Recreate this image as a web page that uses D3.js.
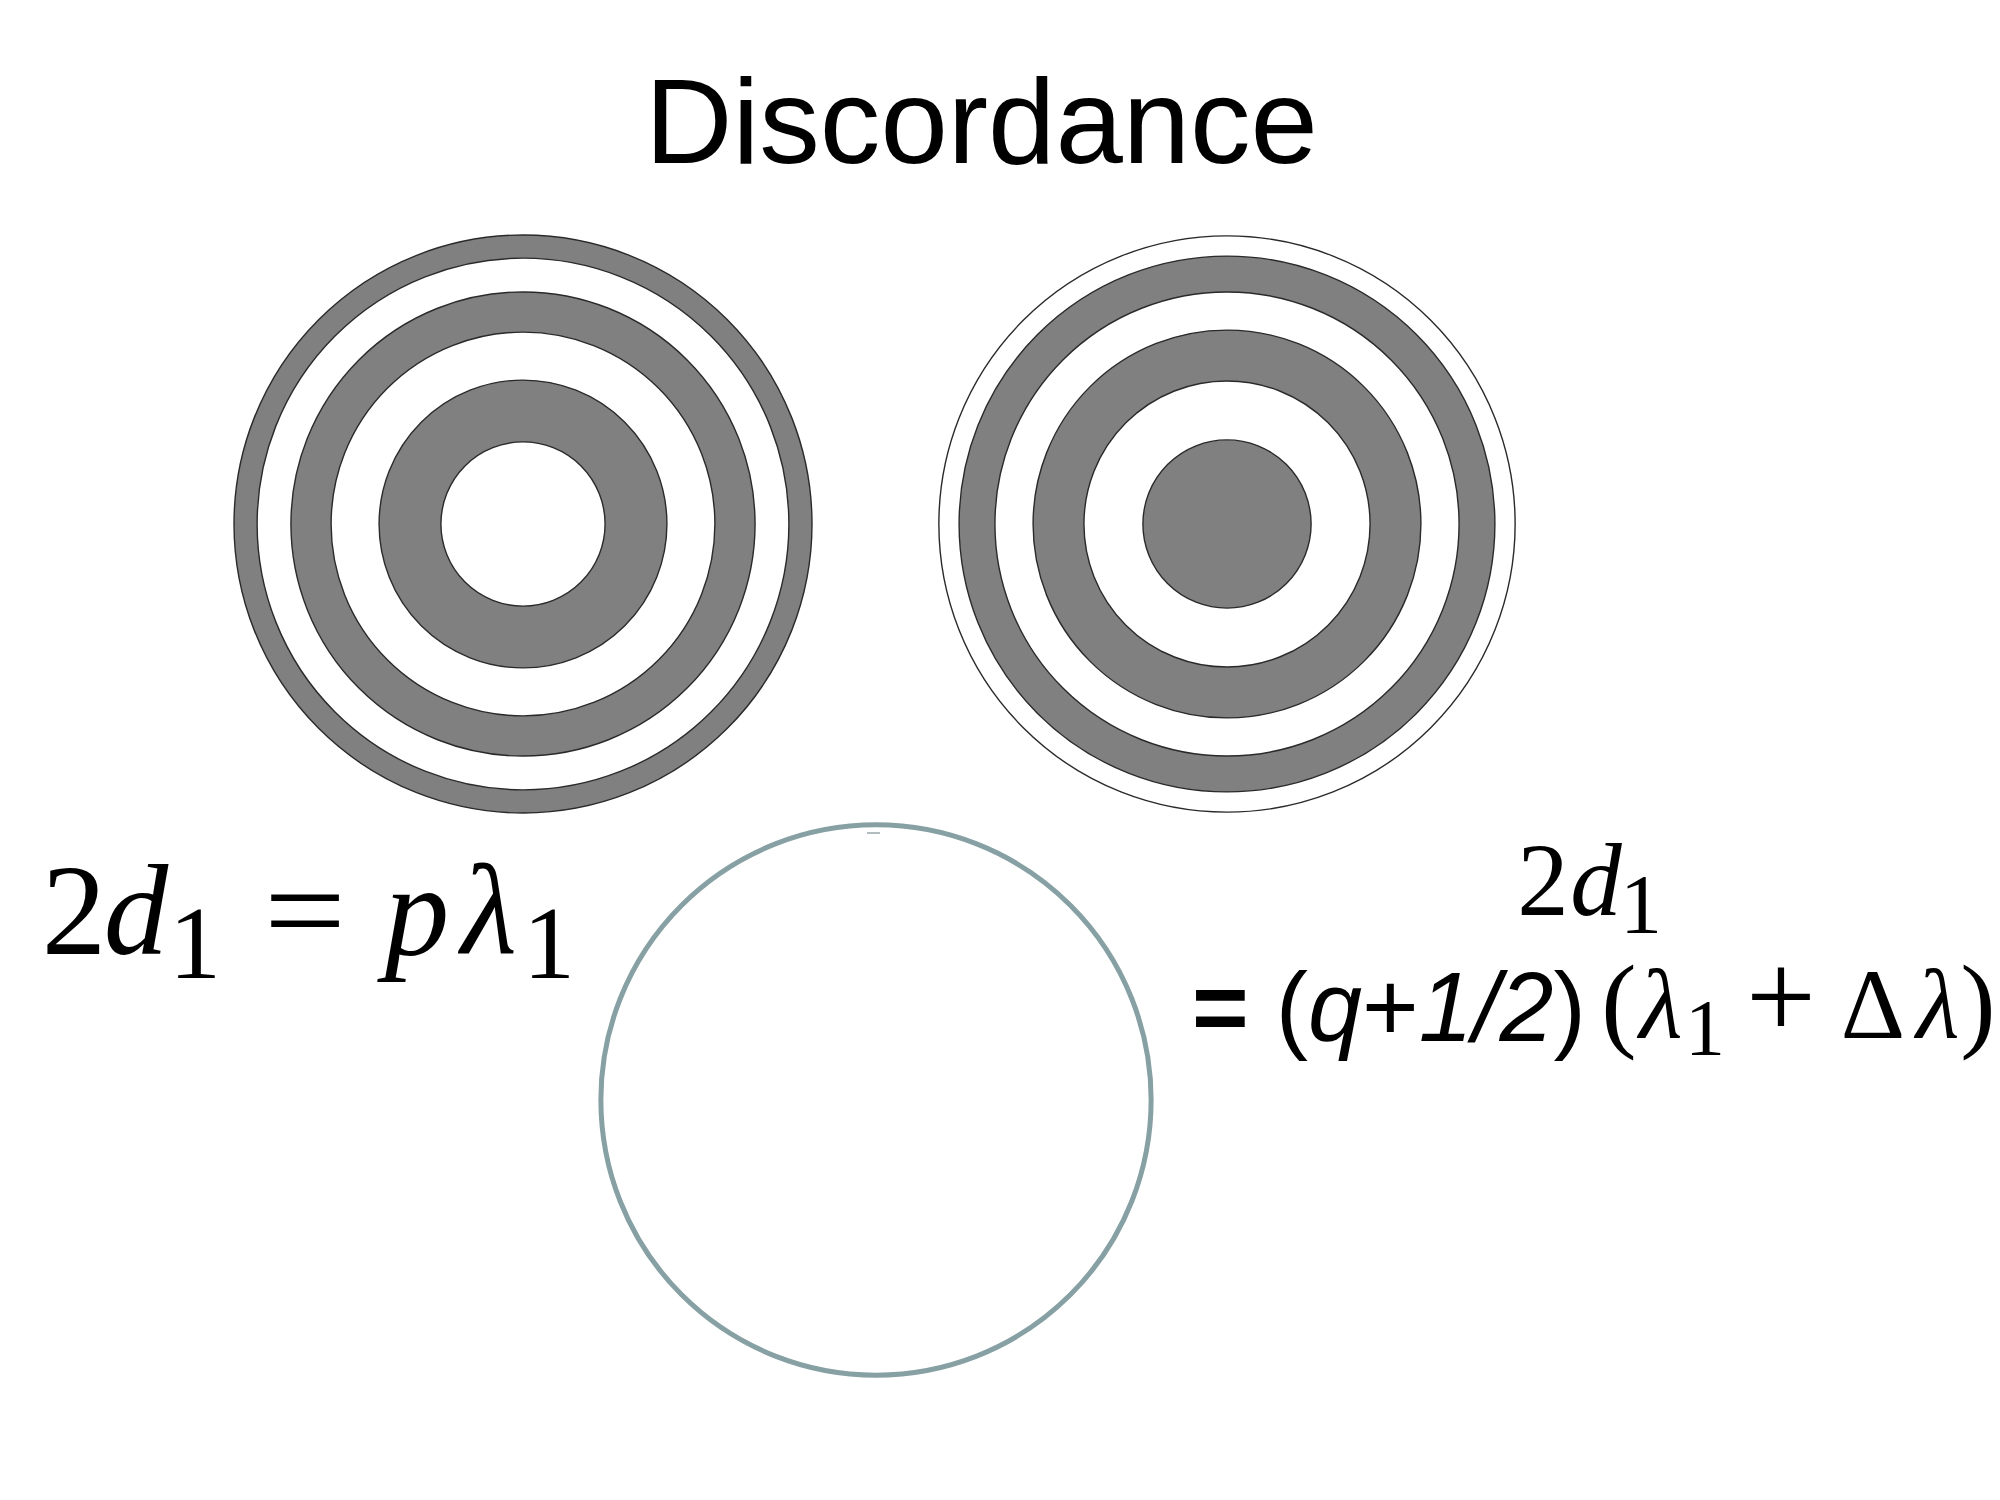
<!DOCTYPE html>
<html><head><meta charset="utf-8">
<script src="https://cdn.jsdelivr.net/npm/d3@7"></script>
<style>body{margin:0;background:#fff}</style></head>
<body>
<svg id="c" width="2000" height="1500"></svg>
<script>
// ---------- data ----------
const title = "Discordance";
const patterns = ["left", "right"];
// band outer radii as fraction of the largest ring, largest first
const leftBands  = [1.000, 0.920, 0.803, 0.664, 0.498, 0.284];
const leftTones  = ["dark", "light", "dark", "light", "dark", "light"];
const rightBands = [0.997, 0.927, 0.803, 0.671, 0.495, 0.291];
const rightTones = ["light", "dark", "light", "dark", "light", "dark"];
const lensRadius = [0.952];
// formula glyphs
const leftEqGlyphs  = ["2", "d", "1", "=", "p", "λ", "1"];
const rightTopGlyphs = ["2", "d", "1"];
const rightSansGlyphs = ["=", " (", "q", "+", "1/2", ")"];
const rightSerifGlyphs = ["(", "λ", "1", "+", "Δ", "λ", ")"];

// ---------- layout / style ----------
const W = 2000, H = 1500;
const svg = d3.select("#c");
svg.append("rect").attr("width", W).attr("height", H).attr("fill", "#fff");

const r = d3.scaleLinear().domain([0, 1]).range([0, 289]);
const tone = d3.scaleOrdinal().domain(["dark", "light"]).range(["#808080", "#ffffff"]);
const centres = d3.scaleOrdinal().domain(patterns).range([[523, 524], [1227, 524]]);

function drawRings(name, bands, tones) {
  const [cx, cy] = centres(name);
  svg.append("g").attr("transform", `translate(${cx},${cy})`)
    .selectAll("circle").data(bands.map((b, i) => ({ b, t: tones[i] })))
    .join("circle")
    .attr("r", d => r(d.b))
    .attr("fill", d => tone(d.t))
    .attr("stroke", "#2a2a2a")
    .attr("stroke-width", 1.4);
}
drawRings("left", leftBands, leftTones);
drawRings("right", rightBands, rightTones);

// lower circle
svg.append("g").attr("transform", "translate(876,1100)")
  .selectAll("circle").data(lensRadius).join("circle")
  .attr("r", d => r(d)).attr("fill", "none")
  .attr("stroke", "#86a0a4").attr("stroke-width", 5);
svg.append("line").attr("x1", 867).attr("x2", 880).attr("y1", 833).attr("y2", 833)
  .attr("stroke", "#9aa6a8").attr("stroke-width", 1.5);

// title
function fit(sel, x0, x1) {
  const b = sel.node().getBBox();
  const s = (x1 - x0) / b.width;
  sel.attr("transform", `translate(${x0},0) scale(${s},1) translate(${-b.x},0)`);
}
const t = svg.append("text").attr("x", 0).attr("y", 163)
  .attr("font-family", "Liberation Sans, Arial, sans-serif").attr("font-size", 120)
  .attr("fill", "#000").text(title);
fit(t, 645, 1318);

// serif formulas (TeX-like)
const serif = "Liberation Serif, Times New Roman, serif";
function serifGlyphs(glyphs, xs, base, subBase, size, subSize, italic, widths, sizes) {
  svg.append("g").selectAll("text").data(glyphs.map((g, i) => ({ g, i })))
    .join("text")
    .attr("x", d => widths[d.i] ? xs[d.i] - widths[d.i] / 2 : xs[d.i])
    .attr("y", d => subBase[d.i] ? subBase[d.i] : base)
    .attr("text-anchor", d => widths[d.i] ? "start" : "middle")
    .attr("font-family", serif)
    .attr("font-size", d => sizes[d.i] ? sizes[d.i] : (subBase[d.i] ? subSize : size))
    .attr("font-style", d => italic[d.i] ? "italic" : "normal")
    .attr("textLength", d => widths[d.i] ? widths[d.i] : null)
    .attr("lengthAdjust", "spacingAndGlyphs")
    .attr("fill", "#000")
    .text(d => d.g);
}
serifGlyphs(leftEqGlyphs, [74, 136, 195, 305, 417, 489, 549], 954,
  [0, 0, 978, 0, 0, 0, 978], 129, 104, [0, 1, 0, 0, 1, 1, 0],
  [0, 0, 0, 82, 0, 0, 0], [0, 0, 0, 0, 0, 0, 0]);
serifGlyphs(rightTopGlyphs, [1543, 1596, 1641], 915,
  [0, 0, 933], 103, 84, [0, 1, 0], [0, 0, 0], [0, 0, 0]);
serifGlyphs(rightSerifGlyphs, [1619, 1661, 1705, 1781, 1873, 1938, 1978], 1038,
  [0, 0, 1055, 0, 0, 0, 0], 100, 80, [0, 1, 0, 0, 0, 1, 0],
  [0, 0, 0, 0, 0, 0, 0], [106, 0, 0, 124, 0, 0, 106]);

// sans part of right formula
const st = svg.append("text").attr("x", 0).attr("y", 1041)
  .attr("font-family", "Liberation Sans, Arial, sans-serif").attr("font-size", 99).attr("fill", "#000")
  .style("white-space", "pre");
st.selectAll("tspan").data(rightSansGlyphs).join("tspan")
  .attr("font-style", d => (d === "q" || d === "1/2") ? "italic" : "normal")
  .attr("font-weight", d => d === "=" ? "bold" : "normal")
  .text(d => d);
fit(st, 1192, 1586);
</script>
</body></html>
